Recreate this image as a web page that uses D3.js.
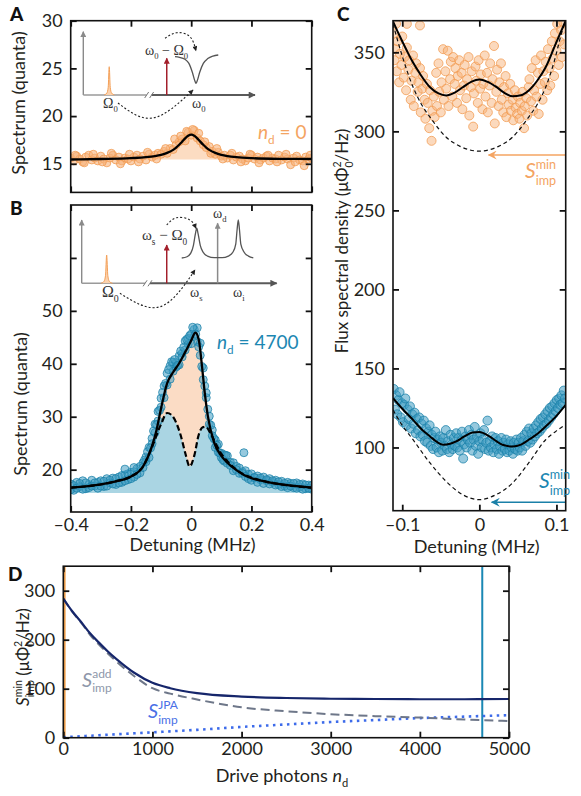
<!DOCTYPE html>
<html>
<head>
<meta charset="utf-8">
<script src="https://cdn.jsdelivr.net/npm/d3@7"></script>
<style>
  body { margin: 0; background: #fff; }
  svg { display: block; font-family: Lato, "Open Sans", sans-serif; }
  .axis text { font-size: 18px; fill: #231f20; font-family: Lato, "Open Sans", sans-serif; }
  .axis line { stroke: #111; stroke-width: 1.8; }
  .axis path { display: none; }
  .frame { fill: none; stroke: #111; stroke-width: 1.6; }
</style>
</head>
<body>
<svg id="fig" width="581" height="796"></svg>
<script>
// ---------- data ----------
const detuning = [-0.40,-0.39,-0.38,-0.37,-0.36,-0.35,-0.34,-0.33,-0.32,-0.31,
  -0.30,-0.29,-0.28,-0.27,-0.26,-0.25,-0.24,-0.23,-0.22,-0.21,
  -0.20,-0.19,-0.18,-0.17,-0.16,-0.15,-0.14,-0.13,-0.12,-0.11,
  -0.10,-0.09,-0.08,-0.07,-0.06,-0.05,-0.04,-0.03,-0.02,-0.01,
  0.00,0.01,0.02,0.03,0.04,0.05,0.06,0.07,0.08,0.09,
  0.10,0.11,0.12,0.13,0.14,0.15,0.16,0.17,0.18,0.19,
  0.20,0.21,0.22,0.23,0.24,0.25,0.26,0.27,0.28,0.29,
  0.30,0.31,0.32,0.33,0.34,0.35,0.36,0.37,0.38,0.39,0.40];

// panel A, n_d = 0
const spectrumA = [15.6,15.3,15.8,15.5,15.2,15.7,15.9,15.4,15.6,15.3,
  15.8,15.5,15.1,15.6,15.9,15.4,15.7,15.3,15.6,15.5,
  15.3,15.7,15.9,15.5,15.8,15.4,16.0,15.7,15.9,16.1,
  16.0,16.3,16.1,16.6,16.5,17.0,17.3,17.6,17.4,18.3,
  18.0,18.5,17.7,17.4,17.0,16.7,16.8,16.3,16.0,16.2,
  15.8,15.9,15.6,15.9,15.4,15.7,15.8,15.5,15.3,15.6,
  15.9,15.5,15.7,15.4,15.6,15.8,15.3,15.6,15.5,15.9,
  15.4,15.7,15.5,14.9,15.6,15.8,15.4,15.3,15.7,15.5,15.6];
const spectrumAExtra = [[-0.385,15.9],[-0.355,15.1],[-0.325,16.0],[-0.295,15.2],[-0.265,16.1],[-0.235,15.0],
  [-0.205,16.0],[-0.175,15.2],[-0.145,16.2],[-0.115,15.5],[-0.085,16.6],[-0.055,17.6],[-0.035,17.9],
  [-0.015,18.4],[0.005,18.6],[0.025,18.2],[0.045,17.3],[0.065,16.1],[0.085,16.6],[0.105,15.5],
  [0.135,16.1],[0.165,15.2],[0.195,16.0],[0.225,15.1],[0.255,15.9],[0.285,15.2],[0.315,16.0],
  [0.345,15.2],[0.375,14.8],[0.395,15.9]];
const fitA = [[-0.4,15.45],[-0.3,15.5],[-0.2,15.59],[-0.15,15.69],[-0.12,15.81],[-0.1,15.94],
  [-0.08,16.14],[-0.06,16.46],[-0.05,16.7],[-0.04,16.99],[-0.03,17.32],[-0.02,17.67],[-0.01,17.94],
  [0,18.05],[0.01,17.94],[0.02,17.67],[0.03,17.32],[0.04,16.99],[0.05,16.7],[0.06,16.46],[0.08,16.14],
  [0.1,15.94],[0.12,15.81],[0.15,15.69],[0.2,15.59],[0.3,15.52],[0.4,15.5]];
const baselineA = 15.45;

// panel B, n_d = 4700
const spectrumB1 = [17.3,16.1,17.6,16.8,17.9,16.4,17.2,18.0,16.9,17.6,
  17.9,16.8,18.3,17.5,18.4,17.2,18.6,17.6,19.0,18.1,
  19.5,18.6,20.2,19.4,21.3,22.4,24.2,25.9,28.6,31.0,
  33.5,35.8,38.2,39.6,40.3,39.4,41.5,42.0,44.3,43.7,
  45.6,46.5,44.2,41.6,37.0,33.6,30.1,27.5,25.6,24.8,
  23.1,22.8,22.6,21.4,21.3,20.6,20.3,19.6,19.8,19.1,
  19.2,18.5,18.8,18.1,18.6,17.9,18.3,17.6,18.0,17.2,
  17.8,16.9,17.6,17.4,16.6,17.5,16.7,17.3,16.4,17.1,16.3];
const spectrumB2 = [16.2,17.0,16.5,17.4,16.3,17.5,16.6,16.9,17.5,16.5,
  16.9,17.8,16.9,18.0,17.3,18.3,17.5,18.9,17.9,19.2,
  18.3,19.6,19.1,20.6,20.4,21.5,22.3,24.9,27.0,29.2,
  31.8,33.6,36.0,37.1,38.6,40.2,39.8,41.3,42.6,44.8,
  43.8,45.2,46.8,43.9,39.2,34.5,28.6,26.4,24.2,23.3,
  22.3,21.6,21.2,20.8,19.8,20.0,19.3,19.3,18.7,18.3,
  18.0,18.5,17.6,18.4,17.4,18.1,17.3,17.9,17.1,17.7,
  16.8,17.4,16.6,16.9,17.4,16.5,17.2,16.3,17.1,16.5,17.0];
const spectrumBExtra = [[-0.22,20.1],[-0.19,20.4],[-0.155,21.8],[-0.145,23.4],[-0.135,24.1],[-0.125,27.3],
  [-0.115,28.5],[-0.105,31.2],[-0.095,34.6],[-0.085,36.3],[-0.075,38.9],[-0.065,40.4],[-0.055,40.8],
  [-0.045,39.7],[-0.035,42.4],[-0.025,43.1],[-0.015,44.6],[-0.005,45.3],[0.005,46.9],[0.015,45.6],
  [0.025,43.2],[0.035,39.5],[0.045,35.8],[0.055,31.4],[0.065,28.4],[0.075,25.9],[0.085,24.6],
  [0.095,23.1],[0.105,21.9],[0.115,22.7],[0.175,23.2]];
const fitB = [[-0.4,16.6],[-0.3,17.2],[-0.25,17.8],[-0.2,18.7],[-0.16,20.6],[-0.13,24.5],[-0.115,27.5],
  [-0.1,31.6],[-0.08,36.3],[-0.06,38.4],[-0.04,40.1],[-0.02,42.2],[0,44.4],[0.014,45.9],[0.025,44.6],
  [0.035,40.0],[0.045,34.5],[0.055,30.2],[0.075,25.3],[0.1,22.6],[0.12,21.3],[0.15,19.9],[0.175,19.0],
  [0.2,18.4],[0.25,17.7],[0.3,17.2],[0.4,16.6]];
const fitBNoAmp = [[-0.4,16.6],[-0.3,17.2],[-0.25,17.8],[-0.2,18.7],[-0.16,20.6],[-0.13,24.3],[-0.1,28.6],
  [-0.08,30.7],[-0.065,30.3],[-0.05,28.9],[-0.035,26.5],[-0.02,23.2],[-0.005,20.6],[0.01,22.6],
  [0.025,26.6],[0.038,28.0],[0.048,28.1],[0.064,26.9],[0.086,24.4],[0.1,23.0],[0.12,21.6],[0.15,20.0],
  [0.175,19.1],[0.2,18.5],[0.25,17.7],[0.3,17.2],[0.4,16.6]];
const baselineB = 15.6;

// panel C, flux spectral density (μΦ0²/Hz)
const fluxOrange = [[-0.111,362],[-0.110,345],[-0.109,352],[-0.108,368],[-0.107,338],[-0.106,357],[-0.104,331],
  [-0.103,349],[-0.101,342],[-0.100,360],[-0.098,334],[-0.097,347],[-0.095,326],[-0.094,368],[-0.094,353],
  [-0.092,339],[-0.091,345],[-0.089,320],[-0.088,332],[-0.086,348],[-0.085,316],[-0.083,337],[-0.082,343],
  [-0.080,325],[-0.079,331],[-0.077,367],[-0.077,340],[-0.076,312],[-0.074,327],[-0.073,335],[-0.071,320],
  [-0.070,308],[-0.068,330],[-0.067,318],[-0.065,302],[-0.064,326],[-0.062,294],[-0.061,313],[-0.059,322],
  [-0.058,309],[-0.056,337],[-0.055,316],[-0.053,343],[-0.052,325],[-0.050,312],[-0.049,331],[-0.047,352],
  [-0.046,320],[-0.044,338],[-0.043,327],[-0.041,351],[-0.040,316],[-0.038,333],[-0.037,344],[-0.035,322],
  [-0.034,347],[-0.032,330],[-0.031,340],[-0.029,318],[-0.028,335],[-0.026,345],[-0.025,326],[-0.023,337],
  [-0.022,314],[-0.020,329],[-0.019,342],[-0.017,321],[-0.016,333],[-0.014,347],[-0.013,310],[-0.011,328],
  [-0.010,338],[-0.008,303],[-0.007,324],[-0.005,341],[-0.004,332],[-0.002,318],[-0.001,345],[0.001,327],
  [0.002,336],[0.004,314],[0.005,330],[0.007,348],[0.008,322],[0.010,337],[0.011,312],[0.013,329],
  [0.014,343],[0.016,318],[0.017,333],[0.019,354],[0.020,305],[0.022,325],[0.023,339],[0.025,316],
  [0.026,331],[0.028,343],[0.029,320],[0.031,312],[0.032,328],[0.034,335],[0.035,309],[0.037,324],
  [0.038,317],[0.040,330],[0.041,313],[0.043,320],[0.044,307],[0.046,326],[0.047,315],[0.049,311],
  [0.050,322],[0.052,308],[0.053,318],[0.055,313],[0.056,325],[0.058,302],[0.059,316],[0.061,321],
  [0.062,310],[0.064,328],[0.065,333],[0.067,319],[0.068,340],[0.070,313],[0.071,326],[0.073,345],
  [0.074,322],[0.076,337],[0.077,311],[0.079,330],[0.080,348],[0.082,320],[0.083,338],[0.085,331],
  [0.086,344],[0.088,326],[0.089,352],[0.091,340],[0.092,329],[0.094,357],[0.095,346],[0.097,335],
  [0.098,362],[0.100,351],[0.101,368],[0.103,342],[0.104,357],[0.106,364],[0.107,347],[0.109,369],[0.110,355]];
const fitCOrange = [[-0.112,369.6],[-0.103,360],[-0.094,351],[-0.086,343.5],[-0.077,336.4],[-0.064,327.9],
  [-0.053,324],[-0.043,322.7],[-0.032,324.5],[-0.0215,327.9],[-0.01,331.5],[0,332.8],[0.01,331.5],
  [0.0215,328.3],[0.032,324.5],[0.043,322.2],[0.054,322.8],[0.064,325.8],[0.075,332],[0.086,340.5],
  [0.099,355.3],[0.112,370]];
const dashedCOrange = [[-0.112,368],[-0.099,346],[-0.086,328],[-0.075,317],[-0.064,309],[-0.043,296.3],
  [-0.025,290.5],[0,287.5],[0.025,290.5],[0.043,296.3],[0.064,309],[0.075,317],[0.086,327.9],
  [0.097,344],[0.107,362.7],[0.112,370]];
const fluxBlue = [[-0.111,137],[-0.1095,124],[-0.108,133],[-0.1065,121],[-0.105,130],[-0.1035,135],[-0.102,119],
  [-0.1005,128],[-0.099,116],[-0.0975,127],[-0.096,131],[-0.0945,114],[-0.093,124],[-0.0915,118],[-0.09,126],
  [-0.0885,112],[-0.087,121],[-0.0855,115],[-0.084,122],[-0.0825,109],[-0.081,118],[-0.0795,111],[-0.078,119],
  [-0.0765,107],[-0.075,115],[-0.0735,108],[-0.072,117],[-0.0705,104],[-0.069,112],[-0.0675,103],[-0.066,110],
  [-0.0645,114],[-0.063,101],[-0.0615,108],[-0.06,99],[-0.0585,106],[-0.057,110],[-0.0555,100],[-0.054,105],
  [-0.0525,97],[-0.051,107],[-0.0495,103],[-0.048,98],[-0.0465,106],[-0.045,101],[-0.0435,111],[-0.042,99],
  [-0.0405,104],[-0.039,97],[-0.0375,108],[-0.036,102],[-0.0345,99],[-0.033,106],[-0.0315,101],[-0.03,109],
  [-0.0285,100],[-0.027,106],[-0.0255,98],[-0.024,104],[-0.0225,110],[-0.021,93],[-0.0195,102],[-0.018,107],
  [-0.0165,100],[-0.015,105],[-0.0135,111],[-0.012,103],[-0.0105,108],[-0.009,98],[-0.0075,105],[-0.006,113],
  [-0.0045,101],[-0.003,107],[-0.0015,96],[0,104],[0.0015,109],[0.003,100],[0.0045,105],[0.006,111],
  [0.0075,99],[0.009,103],[0.0105,117],[0.012,98],[0.0135,104],[0.015,100],[0.0165,107],[0.018,97],
  [0.0195,102],[0.021,106],[0.0225,99],[0.024,104],[0.0255,96],[0.027,101],[0.0285,106],[0.03,98],
  [0.0315,103],[0.033,99],[0.0345,105],[0.036,97],[0.0375,102],[0.039,98],[0.0405,104],[0.042,100],
  [0.0435,96],[0.045,103],[0.0465,99],[0.048,105],[0.0495,98],[0.051,103],[0.0525,100],[0.054,106],
  [0.0555,98],[0.057,104],[0.0585,108],[0.06,101],[0.0615,110],[0.063,104],[0.0645,112],[0.066,103],
  [0.0675,109],[0.069,105],[0.0705,112],[0.072,107],[0.0735,114],[0.075,109],[0.0765,116],[0.078,110],
  [0.0795,118],[0.081,112],[0.0825,119],[0.084,114],[0.0855,121],[0.087,115],[0.0885,123],[0.09,117],
  [0.0915,125],[0.093,119],[0.0945,126],[0.096,121],[0.0975,128],[0.099,123],[0.1005,130],[0.102,125],
  [0.1035,131],[0.105,127],[0.1065,133],[0.108,128],[0.1095,136],[0.111,131]];
const fitCBlue = [[-0.112,131.2],[-0.1,124.5],[-0.086,117.5],[-0.075,111.5],[-0.064,107],[-0.055,103.5],
  [-0.047,101.7],[-0.038,102.3],[-0.03,103.8],[-0.02,106.8],[-0.009,109.5],[0,109.8],[0.013,107],
  [0.022,104],[0.03,101.7],[0.043,100.6],[0.054,101.8],[0.064,104.9],[0.075,108.5],[0.086,113.3],
  [0.1,120],[0.112,127]];
const dashedCBlue = [[-0.112,123.8],[-0.1,114],[-0.086,104.9],[-0.064,90.2],[-0.043,78.5],[-0.0215,70.1],
  [0,67],[0.0215,70.1],[0.043,77.5],[0.064,90.2],[0.086,104.9],[0.1,110.5],[0.112,114.5]];
const sminLevels = [285, 65.3];      // orange, blue arrows
const sminArrowTip = [0.012, 0.016];

// panel D
const photons = [0,100,200,300,400,500,600,800,1000,1200,1500,2000,2500,3000,3500,4000,4500,5000];
const sTotal  = [284,258,236,213,194,176,160,132,112,101,91,84,81,79.5,79,78.5,78.5,79];
const sAdd    = [284,257,235,210,190,172,155,125,101,90,78,62,54,48,44,41,37,34];
const sJPA    = [1,2,3,4,5,6,7,9,11,13,16,22,27,32,36,40,43,46];
const driveMarks = [15, 4700];

// ticks
const ticksABx = [-0.4,-0.2,0,0.2,0.4];
const ticksAy = [15,20,25,30];
const ticksBy = [20,30,40,50,60];
const labelsBy = [20,30,40,50];
const ticksCx = [-0.1,0,0.1];
const ticksCy = [100,150,200,250,300,350];
const ticksDx = [0,1000,2000,3000,4000,5000];
const ticksDy = [0,100,200,300];

// inset sketches (arbitrary units 0..100)
const insetPeak = [[-3,0],[-1.4,3],[-0.6,12],[0,44.7],[0.6,12],[1.4,3],[3,0]];
const insetDip = [[53.4,60.5],[56,59.5],[59.2,56.5],[61.5,50],[63.5,36],[65,22],[65.6,18.5],[66.3,22],
  [67.8,36],[69.9,50],[72.5,57.5],[75.5,61.5],[78.6,63.2]];
const insetDouble = [[51.3,40],[54,42],[56,48],[57.3,60],[58.3,78],[59,87],[59.7,78],[60.8,60],[62.3,49],
  [64.5,43],[68,40.5],[72,40.5],[75.2,43],[77.5,49],[79,62],[79.7,85],[80.3,100],[80.9,85],[81.6,62],
  [83.3,49],[85.5,43],[88,40]];

// ---------- colours ----------
const orange = '#f29a4f', orangeFill = '#f7b37b', orangeText = '#f4a462';
const blue = '#1a80a8', blueFill = '#3f9cc2', blueText = '#1c87b2';

// ---------- helpers ----------
const svg = d3.select('#fig');
const defs = svg.append('defs');
const fmt = d => d < 0 ? '–' + Math.abs(d) : String(d);

function marker(id, color, w, h, notch) {
  defs.append('marker').attr('id', id)
    .attr('viewBox', '0 0 10 10').attr('refX', 9).attr('refY', 5)
    .attr('markerUnits', 'userSpaceOnUse')
    .attr('markerWidth', w).attr('markerHeight', h)
    .attr('orient', 'auto')
    .append('path')
    .attr('d', notch ? 'M0,0L10,5L0,10L3.5,5Z' : 'M0,0L10,5L0,10Z')
    .attr('fill', color);
}
marker('arrGrey', '#555', 9, 7);
marker('arrGreyL', '#8a8a8a', 8, 6);
marker('arrRed', '#a31f2b', 8, 6);
marker('arrBlack', '#222', 6, 5);
marker('arrOrange', orangeText, 13, 9, true);
marker('arrBlue', blue, 13, 9, true);

function clip(id, x, y) {
  defs.append('clipPath').attr('id', id).append('rect')
    .attr('x', x.range()[0]).attr('y', y.range()[1])
    .attr('width', x.range()[1] - x.range()[0])
    .attr('height', y.range()[0] - y.range()[1]);
}

function axes(x, y, xt, yt, o) {
  const g = svg.append('g');
  const [xl, xr] = x.range(), [yb, ytop] = y.range();
  g.append('g').attr('class', 'axis').attr('transform', `translate(0,${yb})`)
    .call(d3.axisBottom(x).tickValues(xt).tickSize(-6).tickSizeOuter(0).tickPadding(o.xPad || 7)
      .tickFormat(o.xLabels ? fmt : () => ''));
  g.append('g').attr('class', 'axis').attr('transform', `translate(0,${ytop})`)
    .call(d3.axisTop(x).tickValues(xt).tickSize(-6).tickSizeOuter(0).tickFormat(() => ''));
  const yl = o.yLabels || yt;
  g.append('g').attr('class', 'axis').attr('transform', `translate(${xl},0)`)
    .call(d3.axisLeft(y).tickValues(yt).tickSize(-6).tickSizeOuter(0).tickPadding(8)
      .tickFormat(d => yl.includes(d) ? fmt(d) : ''));
  g.append('g').attr('class', 'axis').attr('transform', `translate(${xr},0)`)
    .call(d3.axisRight(y).tickValues(yt).tickSize(-6).tickSizeOuter(0).tickFormat(() => ''));
  g.append('rect').attr('class', 'frame')
    .attr('x', xl).attr('y', ytop).attr('width', xr - xl).attr('height', yb - ytop);
}

function dots(g, data, x, y, r, fill, stroke, op) {
  g.append('g').selectAll('circle').data(data).join('circle')
    .attr('cx', d => x(d[0])).attr('cy', d => y(d[1])).attr('r', r)
    .attr('fill', fill).attr('fill-opacity', op)
    .attr('stroke', stroke).attr('stroke-opacity', 0.75).attr('stroke-width', 1);
}

function curve(g, data, x, y, stroke, width, dash) {
  const p = g.append('path').datum(data)
    .attr('d', d3.line().x(d => x(d[0])).y(d => y(d[1])).curve(d3.curveMonotoneX))
    .attr('fill', 'none').attr('stroke', stroke).attr('stroke-width', width);
  if (dash) p.attr('stroke-dasharray', dash);
  return p;
}

// text with sub/superscripts; parts: {t, s:'sup'|'sub', i:italic, stack:true}
function rich(parent, x, y, parts, size, o = {}) {
  const t = parent.append('text').attr('x', x).attr('y', y)
    .attr('font-size', size).attr('fill', o.fill || '#231f20')
    .attr('text-anchor', o.anchor || 'start');
  if (o.transform) t.attr('transform', o.transform);
  if (o.family) t.attr('font-family', o.family);
  let shift = 0, lastW = 0;
  parts.forEach(p => {
    const target = p.s === 'sup' ? -(o.up || 0.4) * size : p.s === 'sub' ? (o.down || 0.3) * size : 0;
    const ts = t.append('tspan').text(p.t).attr('dy', target - shift);
    shift = target;
    if (p.s) ts.attr('font-size', (o.k || 0.62) * size);
    if (p.i) ts.attr('font-style', 'italic');
    if (p.stack) ts.attr('dx', -lastW);
    lastW = ts.node().getComputedTextLength();
  });
  return t;
}

function inset(ix, iy, o) {
  const g = svg.append('g');
  const lineFn = c => d3.line().x(d => ix(d[0])).y(d => iy(d[1])).curve(c);
  g.append('line').attr('x1', ix(0)).attr('y1', iy(0)).attr('x2', ix(0)).attr('y2', iy(100))
    .attr('stroke', '#8a8a8a').attr('stroke-width', 1.4).attr('marker-end', 'url(#arrGreyL)');
  g.append('line').attr('x1', ix(0)).attr('y1', iy(0)).attr('x2', ix(o.brk[0])).attr('y2', iy(0))
    .attr('stroke', '#9a9a9a').attr('stroke-width', 1.4);
  g.append('line').attr('x1', ix(o.brk[1])).attr('y1', iy(0)).attr('x2', ix(100)).attr('y2', iy(0))
    .attr('stroke', '#5a5a5a').attr('stroke-width', 2).attr('marker-end', 'url(#arrGrey)');
  o.brk.forEach(b => g.append('line')
    .attr('x1', ix(b) - 2).attr('y1', iy(0) + 3).attr('x2', ix(b) + 2).attr('y2', iy(0) - 3)
    .attr('stroke', '#777').attr('stroke-width', 1));
  // signal peak at Ω0
  g.append('path').datum(insetPeak.map(d => [d[0] + o.peakX, d[1]]))
    .attr('d', lineFn(d3.curveMonotoneX))
    .attr('fill', '#fbd2ae').attr('stroke', '#f4a058').attr('stroke-width', 1);
  // pump arrow
  g.append('line').attr('x1', ix(o.pumpX)).attr('y1', iy(0)).attr('x2', ix(o.pumpX)).attr('y2', iy(o.pumpH))
    .attr('stroke', '#a31f2b').attr('stroke-width', 1.5).attr('marker-end', 'url(#arrRed)');
  if (o.driveX) {
    g.append('line').attr('x1', ix(o.driveX)).attr('y1', iy(0)).attr('x2', ix(o.driveX)).attr('y2', iy(o.driveH))
      .attr('stroke', '#8a8a8a').attr('stroke-width', 1.5).attr('marker-end', 'url(#arrGreyL)');
  }
  // cavity response
  g.append('path').datum(o.shape).attr('d', lineFn(d3.curveMonotoneX))
    .attr('fill', 'none').attr('stroke', '#555').attr('stroke-width', 1.3);
  // dotted conversion arrows
  o.arcs.forEach(a => g.append('path').datum(a).attr('d', lineFn(d3.curveNatural))
    .attr('fill', 'none').attr('stroke', '#222').attr('stroke-width', 1.1)
    .attr('stroke-dasharray', '2,2').attr('marker-end', 'url(#arrBlack)'));
  o.labels.forEach(l => rich(g, ix(l.x), iy(l.y), l.parts, l.size || 14,
    { family: '"Liberation Serif", serif', fill: '#333', down: 0.3, k: 0.62 }));
  return g;
}

// ---------- panel A ----------
const xA = d3.scaleLinear().domain([-0.4, 0.4]).range([70.7, 311.7]);
const yA = d3.scaleLinear().domain([12, 30]).range([192.4, 20.7]);
clip('clipA', xA, yA);
const gA = svg.append('g').attr('clip-path', 'url(#clipA)');
gA.append('path').datum(fitA)
  .attr('d', d3.area().x(d => xA(d[0])).y0(yA(baselineA)).y1(d => yA(d[1])).curve(d3.curveMonotoneX))
  .attr('fill', '#fcdcc2');
dots(gA, detuning.map((d, i) => [d, spectrumA[i]]).concat(spectrumAExtra), xA, yA, 4, orangeFill, orange, 0.6);
curve(gA, fitA, xA, yA, '#000', 2.3);
axes(xA, yA, ticksABx, ticksAy, { xLabels: false });

inset(d3.scaleLinear().domain([0, 100]).range([83.3, 255]),
      d3.scaleLinear().domain([0, 100]).range([95, 31.7]), {
  brk: [36.9, 39.8], peakX: 15.1, pumpX: 48.6, pumpH: 58, shape: insetDip,
  arcs: [[[47.6, 89.6], [54.4, 98.4], [62.1, 92.1], [65.6, 70]],
         [[20.2, -12.6], [40.6, -36.3], [63.9, 7.9]]],
  labels: [
    { x: 35.9, y: 63.2, parts: [{ t: 'ω' }, { t: '0', s: 'sub' }, { t: ' − Ω' }, { t: '0', s: 'sub' }] },
    { x: 11.5, y: -20.5, parts: [{ t: 'Ω' }, { t: '0', s: 'sub' }] },
    { x: 63.3, y: -20.5, parts: [{ t: 'ω' }, { t: '0', s: 'sub' }] }
  ]
});
rich(svg, 258, 138.5, [{ t: 'n', i: true }, { t: 'd', s: 'sub' }, { t: ' = 0' }], 19, { fill: orangeText });

// ---------- panel B ----------
const xB = d3.scaleLinear().domain([-0.4, 0.4]).range([70.7, 311.7]);
const yB = d3.scaleLinear().domain([12, 70]).range([512, 205]);
clip('clipB', xB, yB);
const gB = svg.append('g').attr('clip-path', 'url(#clipB)');
const areaB = d3.area().x(d => xB(d[0])).y0(yB(baselineB)).y1(d => yB(d[1])).curve(d3.curveMonotoneX);
gB.append('path').datum(fitB).attr('d', areaB).attr('fill', '#fbdcc5');
gB.append('path').datum(fitBNoAmp).attr('d', areaB).attr('fill', '#aad5e3');
dots(gB, detuning.map((d, i) => [d, spectrumB1[i]])
  .concat(detuning.map((d, i) => [d, spectrumB2[i]]), spectrumBExtra), xB, yB, 4, blueFill, blue, 0.55);
curve(gB, fitBNoAmp, xB, yB, '#000', 2.2, '6,3');
curve(gB, fitB, xB, yB, '#000', 2.3);
axes(xB, yB, ticksABx, ticksBy, { xLabels: true, yLabels: labelsBy, xPad: 6 });

inset(d3.scaleLinear().domain([0, 100]).range([81.7, 276.7]),
      d3.scaleLinear().domain([0, 100]).range([283.3, 220]), {
  brk: [32.5, 35], peakX: 12.8, pumpX: 43.6, pumpH: 60.5, driveX: 69.7, driveH: 94.8, shape: insetDouble,
  arcs: [[[43.6, 92.1], [48.7, 103.6], [55.5, 100], [58.6, 86.9]],
         [[19.6, -15.8], [40.2, -37], [58.1, 21]]],
  labels: [
    { x: 30.9, y: 68.4, parts: [{ t: 'ω' }, { t: 's', s: 'sub' }, { t: ' − Ω' }, { t: '0', s: 'sub' }], size: 15 },
    { x: 67.3, y: 103, parts: [{ t: 'ω' }, { t: 'd', s: 'sub' }] },
    { x: 10.4, y: -21.6, parts: [{ t: 'Ω' }, { t: '0', s: 'sub' }], size: 16 },
    { x: 55.5, y: -21.6, parts: [{ t: 'ω' }, { t: 's', s: 'sub' }] },
    { x: 77.6, y: -21.6, parts: [{ t: 'ω' }, { t: 'i', s: 'sub' }] }
  ]
});
rich(svg, 217, 348.5, [{ t: 'n', i: true }, { t: 'd', s: 'sub' }, { t: ' = 4700' }], 19, { fill: blueText });

// shared labels A/B
svg.append('text').attr('transform', 'translate(25,103) rotate(-90)').attr('text-anchor', 'middle')
  .attr('font-size', 18).attr('fill', '#231f20').text('Spectrum (quanta)');
svg.append('text').attr('transform', 'translate(27,404) rotate(-90)').attr('text-anchor', 'middle')
  .attr('font-size', 18).attr('fill', '#231f20').text('Spectrum (quanta)');
svg.append('text').attr('x', 192.5).attr('y', 551).attr('text-anchor', 'middle')
  .attr('font-size', 18).attr('fill', '#231f20').text('Detuning (MHz)');

// ---------- panel C ----------
const xC = d3.scaleLinear().domain([-0.112, 0.112]).range([393, 565.7]);
const yC = d3.scaleLinear().domain([60, 370]).range([510.7, 20.7]);
clip('clipC', xC, yC);
const gC = svg.append('g').attr('clip-path', 'url(#clipC)');
dots(gC, fluxOrange, xC, yC, 4.5, orangeFill, orange, 0.5);
dots(gC, fluxBlue, xC, yC, 4.5, blueFill, blue, 0.55);
curve(gC, dashedCOrange, xC, yC, '#111', 1.2, '4,3');
curve(gC, dashedCBlue, xC, yC, '#111', 1.2, '4,3');
curve(gC, fitCOrange, xC, yC, '#000', 2);
curve(gC, fitCBlue, xC, yC, '#000', 2);
[[sminLevels[0], sminArrowTip[0], orangeText, 'arrOrange'], [sminLevels[1], sminArrowTip[1], blue, 'arrBlue']]
  .forEach(([lv, tip, col, m]) => gC.append('line')
    .attr('x1', xC.range()[1]).attr('x2', xC(tip)).attr('y1', yC(lv)).attr('y2', yC(lv))
    .attr('stroke', col).attr('stroke-width', 1.6).attr('marker-end', `url(#${m})`));
axes(xC, yC, ticksCx, ticksCy, { xLabels: true, xPad: 8 });
const sParts = [{ t: 'S', i: true }, { t: 'min', s: 'sup' }, { t: 'imp', s: 'sub', stack: true }];
rich(svg, 525, 178, sParts, 21, { fill: orangeText, k: 0.6, up: 0.44, down: 0.32 });
rich(svg, 539, 488, sParts, 21, { fill: blueText, k: 0.6, up: 0.44, down: 0.32 });
rich(svg, 0, 0, [{ t: 'Flux spectral density (μΦ' }, { t: '0', s: 'sub' }, { t: '2', s: 'sup', stack: true }, { t: '/Hz)' }],
  17, { anchor: 'middle', transform: 'translate(348,241) rotate(-90)' });
svg.append('text').attr('x', 476.7).attr('y', 553).attr('text-anchor', 'middle')
  .attr('font-size', 18).attr('fill', '#231f20').text('Detuning (MHz)');

// ---------- panel D ----------
const xD = d3.scaleLinear().domain([0, 5000]).range([63.3, 509]);
const yD = d3.scaleLinear().domain([0, 350]).range([737.7, 566.2]);
clip('clipD', xD, yD);
const gD = svg.append('g').attr('clip-path', 'url(#clipD)');
gD.selectAll('line.mark').data(driveMarks).join('line').attr('class', 'mark')
  .attr('x1', d => xD(d)).attr('x2', d => xD(d)).attr('y1', yD(0)).attr('y2', yD(350))
  .attr('stroke', (d, i) => i === 0 ? '#f2a24e' : '#1a88b4').attr('stroke-width', 2);
curve(gD, photons.map((d, i) => [d, sJPA[i]]), xD, yD, '#3d6bea', 2.6, '2.5,4.5').attr('stroke-linecap', 'butt');
curve(gD, photons.map((d, i) => [d, sAdd[i]]), xD, yD, '#6e7789', 2, '9,5');
curve(gD, photons.map((d, i) => [d, sTotal[i]]), xD, yD, '#16266b', 2.2);
axes(xD, yD, ticksDx, ticksDy, { xLabels: true, xPad: 5 });
rich(svg, 82, 687, [{ t: 'S', i: true }, { t: 'add', s: 'sup' }, { t: 'imp', s: 'sub', stack: true }], 20,
  { fill: '#8e97aa', k: 0.6, up: 0.44, down: 0.24 });
rich(svg, 148, 718, [{ t: 'S', i: true }, { t: 'JPA', s: 'sup' }, { t: 'imp', s: 'sub', stack: true }], 20,
  { fill: '#4a70e6', k: 0.6, up: 0.44, down: 0.32 });
rich(svg, 0, 0, [{ t: 'S', i: true }, { t: 'min', s: 'sup' }, { t: 'imp', s: 'sub', stack: true },
  { t: ' (μΦ' }, { t: '0', s: 'sub' }, { t: '2', s: 'sup', stack: true }, { t: '/Hz)' }],
  17, { anchor: 'middle', transform: 'translate(29,657) rotate(-90)' });
rich(svg, 282, 782, [{ t: 'Drive photons ' }, { t: 'n', i: true }, { t: 'd', s: 'sub' }], 18, { anchor: 'middle' });

// ---------- panel letters ----------
[['A', 10, 20.7], ['B', 10, 215], ['C', 337, 20.7], ['D', 8, 581]].forEach(([t, x, y]) =>
  svg.append('text').attr('x', x).attr('y', y).attr('font-size', 19).attr('font-weight', 900)
    .attr('fill', '#111').text(t));
</script>
</body>
</html>
